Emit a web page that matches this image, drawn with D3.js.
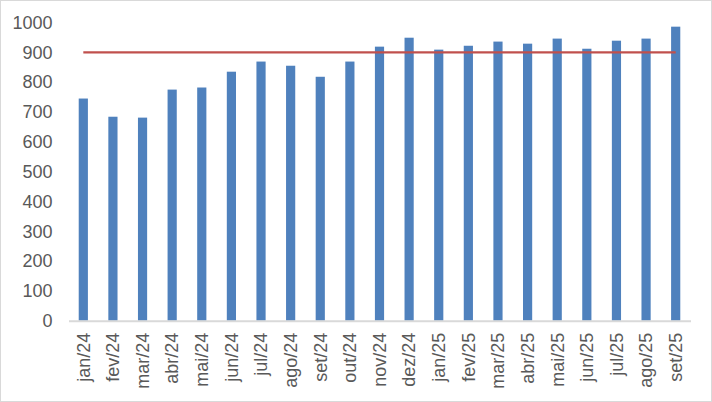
<!DOCTYPE html>
<html><head><meta charset="utf-8">
<script src="https://cdn.jsdelivr.net/npm/d3@7"></script>
<style>body{margin:0;background:#fff}svg{display:block}</style>
</head><body>
<svg id="c" width="712" height="402"></svg>
<script>
const categories = ["jan/24","fev/24","mar/24","abr/24","mai/24","jun/24","jul/24","ago/24","set/24","out/24","nov/24","dez/24","jan/25","fev/25","mar/25","abr/25","mai/25","jun/25","jul/25","ago/25","set/25"];
const values = [745,684,681,775,782,835,869,855,818,869,919,949,909,922,936,929,946,912,939,946,986];
const target = [900];
const yTicks = [0,100,200,300,400,500,600,700,800,900,1000];

const svg = d3.select("#c");
const W = 712, H = 402;
const m = {left:68.5, right:21.5, top:22.5, bottom:81.3};

svg.append("rect").attr("x",0.5).attr("y",0.5).attr("width",W-1).attr("height",H-1)
  .attr("fill","#fff").attr("stroke","#d9d9d9");

const x = d3.scaleBand().domain(categories).range([m.left, W-m.right]).paddingInner(0.69).paddingOuter(0.345);
const y = d3.scaleLinear().domain([0,1000]).range([H-m.bottom, m.top]);

const font = "'Liberation Sans', Arial, sans-serif";

// y axis labels
const ya = svg.append("g").attr("transform",`translate(${m.left},0)`)
  .call(d3.axisLeft(y).tickValues(yTicks).tickFormat(d3.format("d")).tickSize(0).tickPadding(16));
ya.select(".domain").remove();
ya.selectAll("text").attr("font-family",font).attr("font-size",18).attr("fill","#595959");

// bars
svg.append("g").selectAll("rect").data(values).join("rect")
  .attr("x",(d,i)=>x(categories[i]))
  .attr("width",x.bandwidth())
  .attr("y",d=>y(d))
  .attr("height",d=>y(0)-y(d))
  .attr("fill","#4f81bd");

// x axis
const xa = svg.append("g").attr("transform",`translate(0,${y(0)})`)
  .call(d3.axisBottom(x).tickSize(0).tickPadding(0));
xa.select(".domain").attr("stroke","#d9d9d9").attr("stroke-width",2);
xa.selectAll("text").attr("font-family",font).attr("font-size",18).attr("fill","#595959")
  .attr("text-anchor","end").attr("dy","0.35em")
  .attr("transform","translate(0,12) rotate(-90)").attr("x",0).attr("y",0);

// target line
const line = d3.line().x(d=>d[0]).y(d=>d[1]);
const first = x(categories[0]) + x.bandwidth()/2;
const last = x(categories[categories.length-1]) + x.bandwidth()/2;
svg.append("path").attr("d",line([[first,y(target[0])],[last,y(target[0])]]))
  .attr("stroke","#c0504d").attr("stroke-width",2.2).attr("fill","none");
</script>
</body></html>
